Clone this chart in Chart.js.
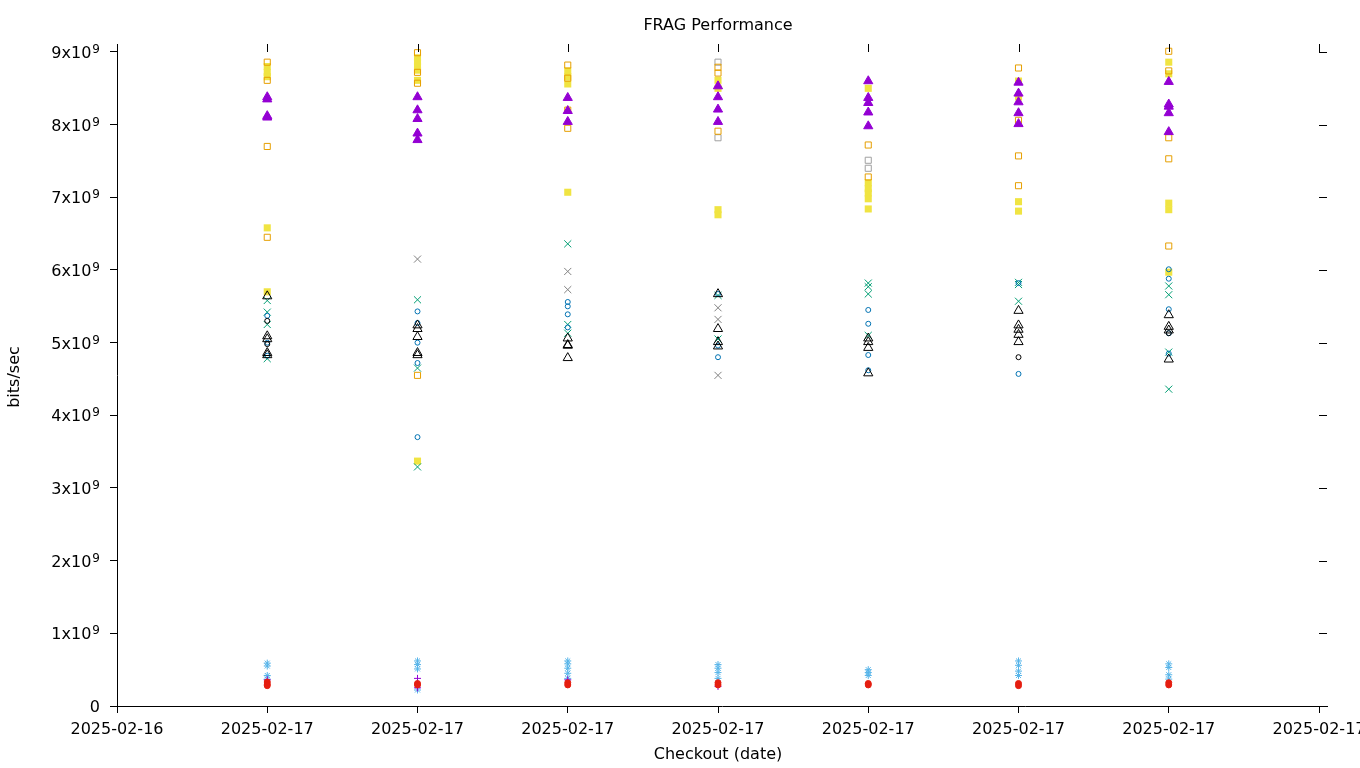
<!DOCTYPE html>
<html>
<head>
<meta charset="utf-8">
<title>FRAG Performance</title>
<script src="https://cdn.jsdelivr.net/npm/chart.js@4.4.1/dist/chart.umd.min.js"></script>
<style>
    html, body { margin: 0; padding: 0; background: #fff; }
    #wrap { width: 1360px; height: 768px; }
</style>
</head>
<body>
<div id="wrap"><canvas id="chart" width="1360" height="768"></canvas></div>
<script>
// Tick positions and labels
const xTicks = [0, 1, 2, 3, 4, 5, 6, 7, 8];
const xTickLabels = ["2025-02-16", "2025-02-17", "2025-02-17", "2025-02-17", "2025-02-17",
                     "2025-02-17", "2025-02-17", "2025-02-17", "2025-02-17"];
const yTicks = [0, 1e9, 2e9, 3e9, 4e9, 5e9, 6e9, 7e9, 8e9, 9e9];
const yTickLabels = ["0", "1x10^9", "2x10^9", "3x10^9", "4x10^9", "5x10^9", "6x10^9", "7x10^9", "8x10^9", "9x10^9"];

// Checkout runs (x position of each column)
const runs = [1, 2, 3, 4, 5, 6, 7];

// Values in 1e9 bits/sec, one list per run
const purpleTri = [[8.38, 8.35, 8.12, 8.10], [8.38, 8.20, 8.08, 7.88, 7.79], [8.37, 8.19, 8.04],
                   [8.53, 8.38, 8.21, 8.04], [8.60, 8.37, 8.30, 8.17, 7.98], [8.58, 8.43, 8.31, 8.16, 8.01],
                   [8.59, 8.28, 8.25, 8.16, 7.90]];
const orangeSq = [[8.86, 8.61, 7.70, 6.45], [8.99, 8.72, 8.57, 4.55], [8.82, 8.64, 8.20, 7.95],
                  [8.79, 8.71, 7.91], [7.72, 7.28], [8.78, 8.06, 7.57, 7.16], [9.01, 8.74, 7.82, 7.53, 6.33]];
const yellowSq = [[8.80, 8.72, 8.66, 6.58, 5.70], [8.92, 8.86, 8.80, 8.75, 8.61, 3.37], [8.74, 8.66, 8.56, 7.07],
                  [8.61, 8.50, 6.83, 6.76], [8.50, 7.20, 7.12, 7.06, 6.98, 6.84], [8.60, 8.38, 6.94, 6.81],
                  [8.86, 8.70, 6.92, 6.83, 5.97]];
const graySq = [[], [], [], [8.86, 7.82], [7.51, 7.40], [], []];
const greenX = [[5.58, 5.42, 5.25, 4.78], [5.59, 4.65, 3.29], [6.36, 5.25, 5.13], [5.65, 5.05],
                [5.82, 5.77, 5.67, 5.10], [5.83, 5.80, 5.57], [5.78, 5.66, 4.87, 4.36]];
const grayX = [[], [6.15], [5.98, 5.73], [5.48, 5.32, 4.55], [], [], []];
const blueCirc = [[5.37, 5.00, 4.82], [5.43, 5.27, 5.00, 4.72, 3.70], [5.56, 5.50, 5.39, 5.21],
                  [5.67, 4.96, 4.80], [5.45, 5.26, 4.83, 4.62], [5.82, 4.57], [6.01, 5.88, 5.46, 5.13, 4.85]];
const blackTri = [[5.64, 5.09, 5.05, 4.86, 4.83], [5.24, 5.19, 5.08, 4.86, 4.83], [5.06, 4.97, 4.96, 4.79],
                  [5.67, 5.19, 5.01, 4.95], [5.06, 5.01, 4.93, 4.58], [5.44, 5.24, 5.18, 5.11, 5.01],
                  [5.38, 5.22, 5.17, 4.77]];
const blackCirc = [[5.30, 4.98], [], [], [], [], [4.80], [5.13]];
const skyStar = [[0.59, 0.55, 0.42, 0.37], [0.62, 0.57, 0.51, 0.22], [0.62, 0.58, 0.52, 0.45, 0.38],
                 [0.57, 0.52, 0.46, 0.38], [0.50, 0.46, 0.42], [0.62, 0.56, 0.48, 0.42], [0.58, 0.53, 0.43, 0.37]];
const redDot = [[0.33, 0.30, 0.28], [0.31, 0.29], [0.32, 0.29], [0.32, 0.29], [0.31, 0.29], [0.31, 0.28], [0.32, 0.29]];
const purplePlus = [[0.36], [0.38, 0.25], [0.36], [0.27], [], [], []];

function toPoints(series) {
    let pts = [];
    series.forEach((vals, i) => {
        vals.forEach(v => pts.push({ x: runs[i], y: v * 1e9 }));
    });
    return pts;
}

function ds(series, style, color, radius, filled) {
    return {
        data: toPoints(series),
        pointStyle: style,
        pointRadius: radius,
        pointBorderColor: color,
        pointBackgroundColor: filled ? color : "rgba(0,0,0,0)",
        pointBorderWidth: style === "rect" && filled ? 0 : 1,
        showLine: false
    };
}

// gnuplot-like frame: mirror ticks on top and right, y labels with exponent, titles
const framePlugin = {
    id: "frame",
    afterDraw(chart) {
        const ctx = chart.ctx;
        const xs = chart.scales.x, ys = chart.scales.y;
        const area = chart.chartArea;
        ctx.save();
        ctx.strokeStyle = "#000";
        ctx.lineWidth = 1;
        ctx.beginPath();
        xTicks.forEach(v => {
            if (v === 0) return;
            const px = Math.round(xs.getPixelForValue(v)) + 0.5;
            ctx.moveTo(px, area.top);
            ctx.lineTo(px, area.top + 8);
        });
        yTicks.forEach(v => {
            const py = Math.round(ys.getPixelForValue(v)) + 0.5;
            ctx.moveTo(area.right - 8, py);
            ctx.lineTo(area.right, py);
        });
        ctx.stroke();

        ctx.fillStyle = "#000";
        ctx.textBaseline = "alphabetic";
        ctx.textAlign = "left";
        yTicks.forEach((v, i) => {
            const parts = yTickLabels[i].split("^");
            const base = parts[0], exp = parts[1] || "";
            const py = ys.getPixelForValue(v) + 6;
            ctx.font = "16px 'DejaVu Sans'";
            const bw = ctx.measureText(base).width;
            ctx.font = "12px 'DejaVu Sans'";
            const ew = exp ? ctx.measureText(exp).width + 1 : 0;
            const x0 = 100 - bw - ew;
            ctx.font = "16px 'DejaVu Sans'";
            ctx.fillText(base, x0, py);
            if (exp) {
                ctx.font = "12px 'DejaVu Sans'";
                ctx.fillText(exp, x0 + bw + 1, py - 5);
            }
        });

        const cx = (xs.getPixelForValue(0) + xs.getPixelForValue(8)) / 2;
        ctx.font = "16px 'DejaVu Sans'";
        ctx.textAlign = "center";
        ctx.textBaseline = "middle";
        ctx.fillText("FRAG Performance", cx, 26);
        ctx.fillText("Checkout (date)", cx, 755);
        ctx.translate(15, (area.top + area.bottom) / 2 + 2);
        ctx.rotate(-Math.PI / 2);
        ctx.fillText("bits/sec", 0, 0);
        ctx.restore();
    }
};

const tickFont = { family: "'DejaVu Sans'", size: 16 };

new Chart(document.getElementById("chart"), {
    type: "scatter",
    data: {
        datasets: [
            ds(purpleTri, "triangle", "#9400d3", 5.3, true),
            ds(redDot, "circle", "#e51e10", 3, true),
            ds(blackTri, "triangle", "#000000", 5.3, false),
            ds(blackCirc, "circle", "#000000", 2.5, false),
            ds(blueCirc, "circle", "#0072b2", 2.5, false),
            ds(greenX, "crossRot", "#009e73", 5, false),
            ds(grayX, "crossRot", "#808080", 5, false),
            ds(purplePlus, "cross", "#9400d3", 3.5, false),
            ds(skyStar, "star", "#56b4e9", 3.5, false),
            ds(orangeSq, "rect", "#e69f00", 4.3, false),
            ds(graySq, "rect", "#a0a0a0", 4.3, false),
            ds(yellowSq, "rect", "#f0e442", 5, true)
        ]
    },
    options: {
        responsive: false,
        animation: false,
        layout: { padding: { top: 44, right: 33, left: 0, bottom: 0 } },
        plugins: {
            legend: { display: false },
            title: { display: false },
            tooltip: { enabled: false }
        },
        scales: {
            x: {
                type: "linear",
                min: 0,
                max: 8.0532,
                afterBuildTicks: s => { s.ticks = xTicks.map(v => ({ value: v })); },
                afterFit: s => { s.height = 62; s.paddingLeft = 0; s.paddingRight = 0; },
                grid: { drawOnChartArea: false, drawTicks: true, tickLength: 7, color: "#000" },
                border: { display: true, color: "#000", width: 1 },
                ticks: {
                    autoSkip: false, maxRotation: 0, padding: 7, color: "#000", font: tickFont,
                    callback: (v, i) => xTickLabels[i]
                }
            },
            y: {
                type: "linear",
                min: 0,
                max: 9.11e9,
                afterBuildTicks: s => { s.ticks = yTicks.map(v => ({ value: v })); },
                afterFit: s => { s.width = 117; s.paddingTop = 0; s.paddingBottom = 0; },
                grid: { drawOnChartArea: false, drawTicks: true, tickLength: 7, color: "#000" },
                border: { display: true, color: "#000", width: 1 },
                ticks: { autoSkip: false, color: "#000", font: tickFont, callback: () => "" }
            }
        }
    },
    plugins: [framePlugin]
});
</script>
</body>
</html>
